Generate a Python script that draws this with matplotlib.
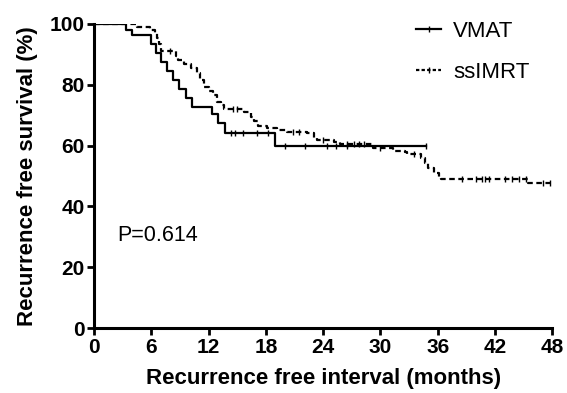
"""Kaplan-Meier style recurrence free survival curves, VMAT vs ssIMRT."""

import matplotlib

matplotlib.use("Agg")

import matplotlib.pyplot as plt
import numpy as np
from matplotlib.lines import Line2D

plt.rcParams["font.family"] = ["Liberation Sans", "DejaVu Sans"]

# step curve: time (months) where survival changes, survival (%) after it
vmat_time = [0, 3.3, 4.0, 6.0, 6.5, 7.0, 7.6, 8.3, 8.9, 9.6, 10.3,
             12.3, 13.0, 13.7, 19.0, 34.8]
vmat_surv = [100, 98.0, 96.5, 93.5, 90.5, 87.5, 84.5, 81.5, 78.5, 75.5,
             72.8, 70.5, 67.3, 64.0, 60.0, 60.0]
vmat_censor = [14.3, 14.8, 15.6, 17.1, 18.2, 20.0, 22.1, 24.4, 25.3,
               26.5, 34.8]

ss_time = [0, 4.5, 5.9, 6.4, 6.6, 6.8, 7.0, 8.6, 8.8, 9.4, 10.1, 10.8,
           11.1, 11.5, 12.0, 12.5, 12.9, 13.3, 13.6, 15.7, 16.4, 16.8,
           17.2, 18.1, 19.2, 20.2, 22.3, 23.0, 23.3, 25.1, 25.8, 29.2,
           31.3, 32.6, 32.8, 34.3, 34.7, 35.0, 35.6, 36.1, 36.3, 45.5,
           48.0]
ss_surv = [100, 99.0, 98.0, 97.0, 95.5, 93.5, 91.0, 89.5, 88.0, 86.8,
           85.4, 83.8, 81.6, 79.4, 78.0, 76.6, 74.4, 73.2, 72.0, 71.0,
           69.5, 68.0, 66.5, 65.7, 65.1, 64.6, 64.0, 62.4, 61.8, 61.3,
           60.5, 59.3, 58.4, 57.8, 57.1, 55.8, 54.2, 52.5, 50.9, 49.8,
           49.0, 47.6, 47.6]
ss_censor = [8.0, 14.5, 15.0, 20.8, 21.5, 24.0, 26.5, 27.2, 27.8, 28.3,
             30.0, 33.5, 38.5, 40.0, 40.6, 41.0, 41.4, 43.0, 43.8, 44.5,
             45.2, 47.0, 47.8]

x_ticks = [0, 6, 12, 18, 24, 30, 36, 42, 48]
y_ticks = [0, 20, 40, 60, 80, 100]


def step_value(times, surv, t):
    idx = np.searchsorted(times, t, side="right") - 1
    return np.asarray(surv)[idx]


fig = plt.figure(figsize=(5.67, 3.93), dpi=100)
ax = fig.add_axes([0.166, 0.165, 0.808, 0.774])

dash = (0, (2.5, 1.6))

ax.plot(vmat_time, vmat_surv, drawstyle="steps-post", color="black",
        lw=1.6)
ax.plot(vmat_censor, step_value(vmat_time, vmat_surv, vmat_censor),
        ls="none", marker="|", ms=4, mew=1.0, color="black")

ax.plot(ss_time, ss_surv, drawstyle="steps-post", color="black",
        lw=1.6, ls=dash)
ax.plot(ss_censor, step_value(ss_time, ss_surv, ss_censor),
        ls="none", marker="|", ms=4, mew=1.0, color="black")

ax.set_xlim(0, 48)
ax.set_ylim(0, 100)
ax.set_xticks(x_ticks)
ax.set_yticks(y_ticks)
ax.spines[["top", "right"]].set_visible(False)
for side in ["left", "bottom"]:
    ax.spines[side].set_linewidth(2.2)
ax.tick_params(direction="out", length=5, width=2, labelsize=15, pad=2)
for lab in ax.get_xticklabels() + ax.get_yticklabels():
    lab.set_fontweight("bold")

ax.set_xlabel("Recurrence free interval (months)", fontsize=16,
              fontweight="bold", labelpad=8)
ax.set_ylabel("Recurrence free survival (%)", fontsize=16,
              fontweight="bold", labelpad=8)

ax.text(2.4, 30.6, "P=0.614", fontsize=15.5, va="center", ha="left")

handles = [
    Line2D([], [], color="black", lw=1.6, marker="|", ms=4),
    Line2D([], [], color="black", lw=1.6, ls=(0, (1.5, 1)), marker="|",
           ms=4),
]
ax.legend(handles, ["VMAT", "ssIMRT"], loc="upper left",
          bbox_to_anchor=(0.66, 1.075), frameon=False, fontsize=16,
          handlelength=1.1, handletextpad=0.55, labelspacing=0.9,
          numpoints=1)

fig.savefig("out.png", dpi=100)
